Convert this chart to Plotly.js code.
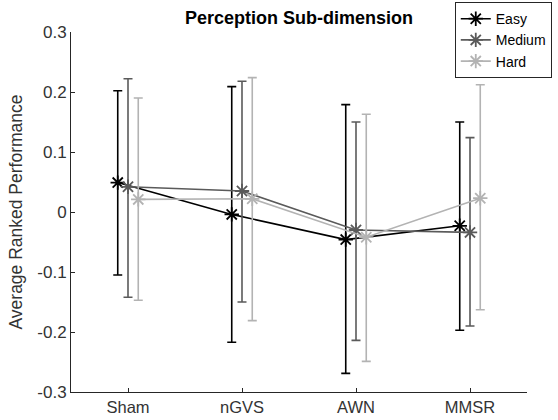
<!DOCTYPE html>
<html>
<head>
<meta charset="utf-8">
<script src="https://cdn.plot.ly/plotly-3.0.1.min.js"></script>
<style>
  html, body { margin: 0; padding: 0; background: #fff; }
  #chart { width: 558px; height: 420px; }
</style>
</head>
<body>
<div id="chart"></div>
<script>
// Stimulation conditions on the x axis
const categories = ["Sham", "nGVS", "AWN", "MMSR"];

// Mean ranked performance per difficulty level
const easyMean   = [0.049, -0.004, -0.046, -0.023];
const mediumMean = [0.042,  0.035, -0.030, -0.034];
const hardMean   = [0.021,  0.022, -0.042,  0.023];

// Upper ends of the error bars
const easyUpper   = [0.202, 0.209, 0.179, 0.150];
const mediumUpper = [0.222, 0.218, 0.150, 0.124];
const hardUpper   = [0.190, 0.224, 0.163, 0.212];

// Lower ends of the error bars
const easyLower   = [-0.105, -0.217, -0.269, -0.197];
const mediumLower = [-0.142, -0.150, -0.214, -0.190];
const hardLower   = [-0.147, -0.181, -0.249, -0.163];

const seriesNames = ["Easy", "Medium", "Hard"];

// Styling
const colors = ["#000000", "#5a5a5a", "#b3b3b3"];
const offsets = [-0.09, 0, 0.09];
const axisColor = "#262626";
const tickColor = "#333333";
const fontFamily = "Liberation Sans, Arial, sans-serif";

const means = [easyMean, mediumMean, hardMean];
const uppers = [easyUpper, mediumUpper, hardUpper];
const lowers = [easyLower, mediumLower, hardLower];

const traces = seriesNames.map((name, s) => ({
  type: "scatter",
  mode: "lines+markers",
  name: name,
  x: categories.map((_, i) => i + 1 + offsets[s]),
  y: means[s],
  line: { color: colors[s], width: 1.6 },
  marker: {
    symbol: "asterisk-open",
    size: 12,
    color: colors[s],
    line: { color: colors[s], width: 1.8 }
  },
  error_y: {
    type: "data",
    symmetric: false,
    array: uppers[s].map((u, i) => u - means[s][i]),
    arrayminus: means[s].map((m, i) => m - lowers[s][i]),
    color: colors[s],
    thickness: 1.6,
    width: 4.5
  }
}));

const layout = {
  width: 558,
  height: 420,
  margin: { l: 71, r: 31, t: 32, b: 28, autoexpand: false },
  paper_bgcolor: "#ffffff",
  plot_bgcolor: "#ffffff",
  font: { family: fontFamily, size: 16, color: tickColor },
  title: {
    text: "<b>Perception Sub-dimension</b>",
    font: { family: fontFamily, size: 18, color: "#000000" },
    x: 0.536,
    xanchor: "center",
    xref: "container",
    y: 0.957,
    yanchor: "middle"
  },
  xaxis: {
    range: [0.5, 4.5],
    tickvals: categories.map((_, i) => i + 1),
    ticktext: categories,
    ticks: "inside",
    ticklen: 4,
    tickcolor: axisColor,
    showline: true,
    linecolor: axisColor,
    linewidth: 1,
    showgrid: false,
    zeroline: false,
    automargin: false,
    tickfont: { size: 16.5, color: tickColor }
  },
  yaxis: {
    range: [-0.3, 0.3],
    tickvals: [-0.3, -0.2, -0.1, 0, 0.1, 0.2, 0.3],
    ticktext: ["-0.3", "-0.2", "-0.1", "0", "0.1", "0.2", "0.3"],
    ticks: "inside",
    ticklen: 4,
    tickcolor: axisColor,
    showline: true,
    linecolor: axisColor,
    linewidth: 1,
    showgrid: false,
    zeroline: false,
    automargin: false,
    tickfont: { size: 17, color: tickColor },
    title: {
      text: "Average Ranked Performance",
      font: { size: 17.5, color: tickColor },
      standoff: 10
    }
  },
  showlegend: true,
  legend: {
    xref: "container",
    yref: "container",
    x: 0.815,
    y: 0.995,
    xanchor: "left",
    yanchor: "top",
    bgcolor: "#ffffff",
    bordercolor: axisColor,
    borderwidth: 1,
    font: { size: 14, color: "#000000" },
    tracegroupgap: 0,
    itemwidth: 30
  }
};

Plotly.newPlot("chart", traces, layout, { displayModeBar: false, staticPlot: true });
</script>
</body>
</html>
